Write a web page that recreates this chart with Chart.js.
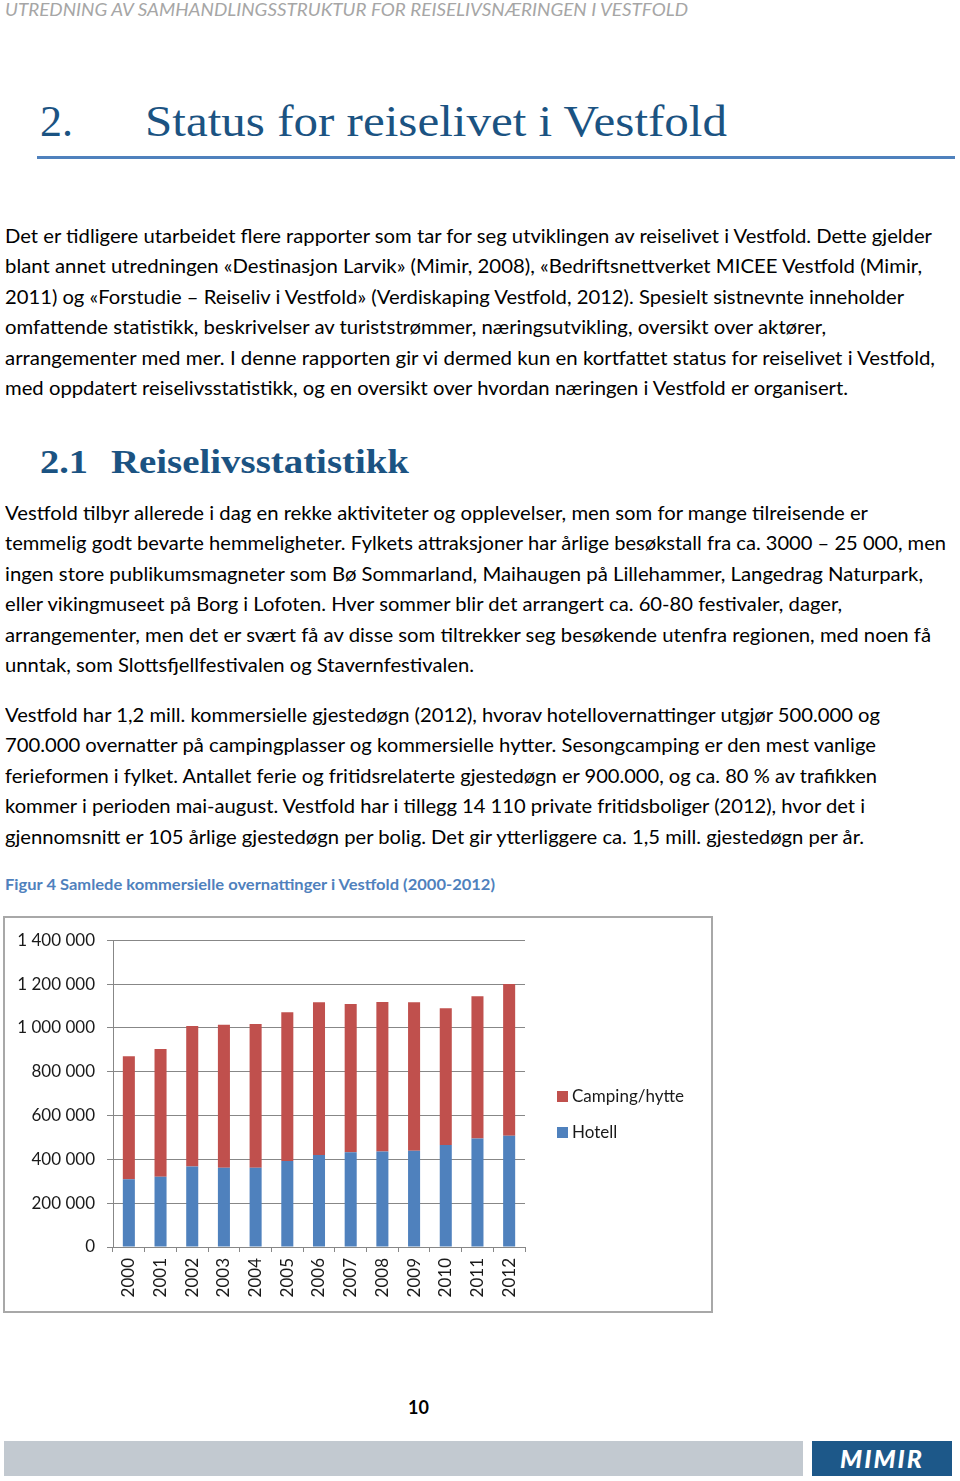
<!DOCTYPE html>
<html>
<head>
<meta charset="utf-8">
<script src="https://cdn.jsdelivr.net/npm/chart.js@4.4.1/dist/chart.umd.min.js"></script>
<style>
  html, body { margin: 0; padding: 0; background: #fff; }
  body { width: 960px; height: 1481px; position: relative; overflow: hidden; font-family: Lato, "Open Sans", sans-serif; color: #000; }
  .abs { position: absolute; white-space: nowrap; }
  .fit { display: inline-block; white-space: nowrap; transform-origin: 0 0; }
  .para { position: absolute; left: 5px; font-size: 20px; line-height: 30.4px; }
  .para div { height: 30.4px; white-space: nowrap; }
  #hdr { left: 5px; top: 1px; font-size: 17px; line-height: 17px; font-style: italic; color: #a6a6a6; }
  .ttl { font-family: "Liberation Serif", serif; font-size: 45px; line-height: 45px; color: #1b5382; top: 99px; }
  #rule { position: absolute; left: 37px; top: 156px; width: 918px; height: 3px; background: #4f81bd; }
  .h2 { font-family: "Liberation Serif", serif; font-weight: bold; font-size: 34px; line-height: 34px; color: #1b5382; top: 445px; }
  #cap { left: 5px; top: 874px; font-size: 16px; line-height: 20px; font-weight: bold; color: #4f81bd; }
  #box { position: absolute; left: 3px; top: 916px; width: 710px; height: 397px; box-sizing: border-box; border: 2px solid #a8a8a8; }
  #chart { position: absolute; left: 5px; top: 918px; }
  #pg { left: 408px; top: 1396px; font-size: 18px; line-height: 22px; font-weight: bold; }
  #bar { position: absolute; left: 4px; top: 1441px; width: 799px; height: 35px; background: #c2c9d0; }
  #logo { position: absolute; left: 812px; top: 1441px; width: 140px; height: 35px; background: #1d5889; color: #fff; font-style: italic; font-weight: 900; font-size: 25px; line-height: 35px; text-align: center; letter-spacing: 2px; }
</style>
</head>
<body>
<div id="hdr" class="abs"><span class="fit" data-w="683">UTREDNING AV SAMHANDLINGSSTRUKTUR FOR REISELIVSNÆRINGEN I VESTFOLD</span></div>

<div class="abs ttl" style="left:40px"><span class="fit" data-w="33">2.</span></div>
<div class="abs ttl" style="left:145px"><span class="fit" data-w="582">Status for reiselivet i Vestfold</span></div>
<div id="rule"></div>

<div class="para" style="top:220px">
  <div><span class="fit" data-w="927">Det er tidligere utarbeidet flere rapporter som tar for seg utviklingen av reiselivet i Vestfold. Dette gjelder</span></div>
  <div><span class="fit" data-w="917">blant annet utredningen «Destinasjon Larvik» (Mimir, 2008), «Bedriftsnettverket MICEE Vestfold (Mimir,</span></div>
  <div><span class="fit" data-w="899">2011) og «Forstudie – Reiseliv i Vestfold» (Verdiskaping Vestfold, 2012). Spesielt sistnevnte inneholder</span></div>
  <div><span class="fit" data-w="821">omfattende statistikk, beskrivelser av turiststrømmer, næringsutvikling, oversikt over aktører,</span></div>
  <div><span class="fit" data-w="930">arrangementer med mer. I denne rapporten gir vi dermed kun en kortfattet status for reiselivet i Vestfold,</span></div>
  <div><span class="fit" data-w="843">med oppdatert reiselivsstatistikk, og en oversikt over hvordan næringen i Vestfold er organisert.</span></div>
</div>

<div class="abs h2" style="left:40px"><span class="fit" data-w="48">2.1</span></div>
<div class="abs h2" style="left:111px"><span class="fit" data-w="298">Reiselivsstatistikk</span></div>

<div class="para" style="top:497px">
  <div><span class="fit" data-w="863">Vestfold tilbyr allerede i dag en rekke aktiviteter og opplevelser, men som for mange tilreisende er</span></div>
  <div><span class="fit" data-w="941">temmelig godt bevarte hemmeligheter. Fylkets attraksjoner har årlige besøkstall fra ca. 3000 – 25 000, men</span></div>
  <div><span class="fit" data-w="918">ingen store publikumsmagneter som Bø Sommarland, Maihaugen på Lillehammer, Langedrag Naturpark,</span></div>
  <div><span class="fit" data-w="837">eller vikingmuseet på Borg i Lofoten. Hver sommer blir det arrangert ca. 60-80 festivaler, dager,</span></div>
  <div><span class="fit" data-w="926">arrangementer, men det er svært få av disse som tiltrekker seg besøkende utenfra regionen, med noen få</span></div>
  <div><span class="fit" data-w="469">unntak, som Slottsfjellfestivalen og Stavernfestivalen.</span></div>
</div>

<div class="para" style="top:699px">
  <div><span class="fit" data-w="875">Vestfold har 1,2 mill. kommersielle gjestedøgn (2012), hvorav hotellovernattinger utgjør 500.000 og</span></div>
  <div><span class="fit" data-w="871">700.000 overnatter på campingplasser og kommersielle hytter. Sesongcamping er den mest vanlige</span></div>
  <div><span class="fit" data-w="872">ferieformen i fylket. Antallet ferie og fritidsrelaterte gjestedøgn er 900.000, og ca. 80 % av trafikken</span></div>
  <div><span class="fit" data-w="860">kommer i perioden mai-august. Vestfold har i tillegg 14 110 private fritidsboliger (2012), hvor det i</span></div>
  <div><span class="fit" data-w="859">gjennomsnitt er 105 årlige gjestedøgn per bolig. Det gir ytterliggere ca. 1,5 mill. gjestedøgn per år.</span></div>
</div>

<div id="cap" class="abs"><span class="fit" data-w="490">Figur 4 Samlede kommersielle overnattinger i Vestfold (2000-2012)</span></div>

<div id="box"></div>
<canvas id="chart" width="706" height="393"></canvas>

<div id="pg" class="abs">10</div>
<div id="bar"></div>
<div id="logo">MIMIR</div>

<script>
// ---- chart data ----
const years = ['2000','2001','2002','2003','2004','2005','2006','2007','2008','2009','2010','2011','2012'];
const hotell = [309000, 320000, 367000, 362000, 362000, 392000, 420000, 432000, 436000, 439000, 465000, 495000, 508000];
const campingHytte = [562000, 583000, 642000, 652000, 656000, 679000, 697000, 677000, 682000, 678000, 624000, 649000, 692000];
const yTickLabels = ['0', '200 000', '400 000', '600 000', '800 000', '1 000 000', '1 200 000', '1 400 000'];
const seriesNames = ['Hotell', 'Camping/hytte'];
const seriesColors = ['#4F81BD', '#C0504D'];

function fitText() {
  document.querySelectorAll('.fit').forEach(el => {
    el.style.transform = 'none';
    const w = el.getBoundingClientRect().width;
    const target = parseFloat(el.dataset.w);
    if (w > 0 && target) el.style.transform = 'scaleX(' + (target / w) + ')';
  });
}

const legendPlugin = {
  id: 'sideLegend',
  afterDraw(chart) {
    const ctx = chart.ctx;
    const ds = chart.data.datasets;
    const items = ds.map((d, i) => i).reverse();
    ctx.save();
    ctx.font = '17px Lato, sans-serif';
    ctx.textBaseline = 'middle';
    ctx.textAlign = 'left';
    items.forEach((idx, k) => {
      const cy = 179 + k * 36;
      ctx.fillStyle = ds[idx].backgroundColor;
      ctx.fillRect(552, cy - 6, 11, 11);
      ctx.fillStyle = '#1a1a1a';
      ctx.fillText(ds[idx].label, 567, cy);
    });
    ctx.restore();
  }
};

function draw() {
  const gridColor = '#878787';
  new Chart(document.getElementById('chart'), {
    type: 'bar',
    data: {
      labels: years,
      datasets: [
        { label: seriesNames[0], data: hotell, backgroundColor: seriesColors[0], barPercentage: 0.38, categoryPercentage: 1 },
        { label: seriesNames[1], data: campingHytte, backgroundColor: seriesColors[1], barPercentage: 0.38, categoryPercentage: 1 }
      ]
    },
    options: {
      responsive: false,
      animation: false,
      devicePixelRatio: 1,
      layout: { padding: { left: 0, top: 21, right: 186, bottom: 0 } },
      plugins: { legend: { display: false }, tooltip: { enabled: false } },
      scales: {
        x: {
          stacked: true,
          grid: { drawOnChartArea: false, drawTicks: true, tickLength: 5, color: gridColor, offset: true },
          border: { display: true, color: gridColor, width: 1 },
          ticks: { minRotation: 90, maxRotation: 90, padding: 6, color: '#1a1a1a', font: { family: 'Lato', size: 17 } },
          afterFit(scale) { scale.height = 64; }
        },
        y: {
          stacked: true,
          min: 0, max: 1400000,
          grid: { color: gridColor, lineWidth: 1, drawTicks: true, tickLength: 6 },
          border: { display: true, color: gridColor, width: 1 },
          ticks: {
            stepSize: 200000, padding: 12, color: '#1a1a1a', font: { family: 'Lato', size: 17 },
            callback: (v, i) => yTickLabels[i]
          },
          afterFit(scale) { scale.width = 108; }
        }
      }
    },
    plugins: [legendPlugin]
  });
}

document.fonts.ready.then(() => { fitText(); draw(); });
</script>
</body>
</html>
